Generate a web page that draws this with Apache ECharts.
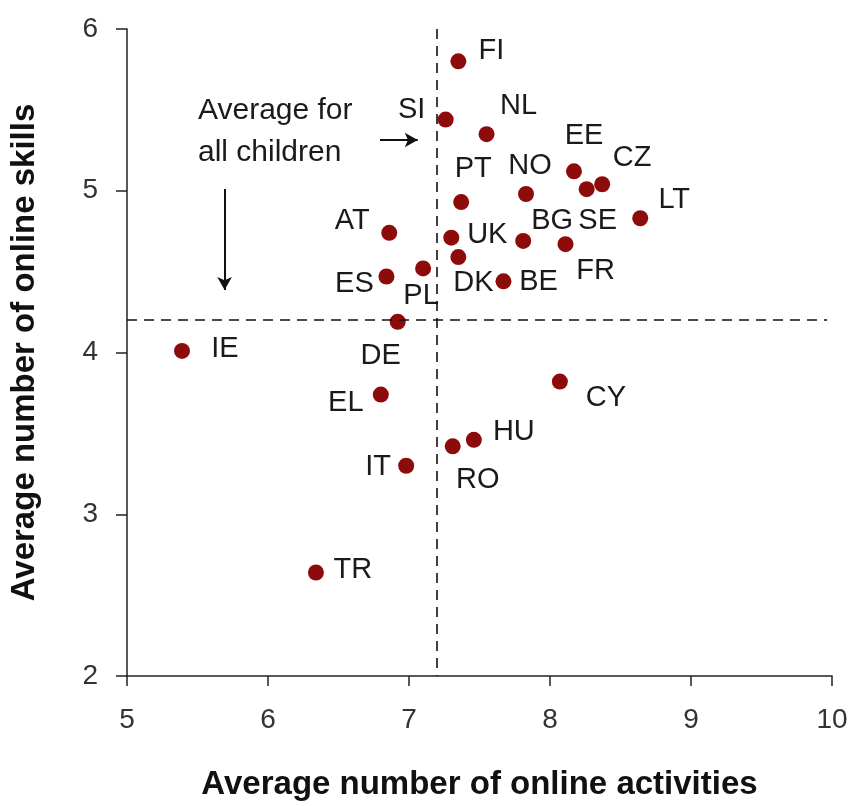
<!DOCTYPE html>
<html>
<head>
<meta charset="utf-8">
<script src="https://cdn.jsdelivr.net/npm/echarts@6/dist/echarts.min.js"></script>
<style>
html,body{margin:0;padding:0;background:#fff;}
#chart{width:868px;height:806px;}
</style>
</head>
<body>
<div id="chart"></div>
<script>
// ---- data ----
const countries  = ['FI','SI','NL','EE','CZ','SE','NO','PT','LT','AT','BG','UK','FR','DK','BE','ES','PL','DE','IE','EL','IT','RO','HU','CY','TR'];
const activities = [7.35,7.26,7.55,8.17,8.37,8.26,7.83,7.37,8.64,6.86,7.81,7.30,8.11,7.35,7.67,6.84,7.10,6.92,5.39,6.80,6.98,7.31,7.46,8.07,6.34];
const skills     = [5.80,5.44,5.35,5.12,5.04,5.01,4.98,4.93,4.83,4.74,4.69,4.71,4.67,4.59,4.44,4.47,4.52,4.19,4.01,3.74,3.30,3.42,3.46,3.82,2.64];
const avgActivities = 7.2;
const avgSkills = 4.2;
const xTicks = [5,6,7,8,9,10];
const yTicks = [2,3,4,5,6];
const annotationLines = ['Average for', 'all children'];

// ---- label placement (layout only) ----
const labelOffsets = {
  FI:[33,-10], SI:[-34,-10], NL:[32,-28], EE:[10,-35], CZ:[30,-26], SE:[11,32],
  NO:[4,-28], PT:[12,-33], LT:[34,-18], AT:[-37,-12], BG:[29,-20], UK:[36,-3],
  FR:[30,27], DK:[15,26], BE:[35,1], ES:[-32,8], PL:[-2,28], DE:[-17,34],
  IE:[43,-2], EL:[-35,8], IT:[-28,1], RO:[25,34], HU:[40,-8], CY:[46,16], TR:[37,-2]
};

const FONT = "'Liberation Sans', Arial, Helvetica, sans-serif";
const points = countries.map((c,i)=>({
  name:c,
  value:[activities[i], skills[i]],
  label:{offset: labelOffsets[c] || [0,0]}
}));

const chart = echarts.init(document.getElementById('chart'), null, {renderer:'canvas'});
const option = {
  animation:false,
  backgroundColor:'#ffffff',
  grid:{left:124, right:36, top:29, bottom:130},
  xAxis:{
    type:'value', min:xTicks[0], max:xTicks[xTicks.length-1], interval:1,
    name:'Average number of online activities',
    nameLocation:'middle', nameGap:92,
    nameTextStyle:{fontFamily:FONT, fontWeight:'bold', fontSize:33, color:'#111'},
    axisLine:{show:true, lineStyle:{color:'#222', width:1.5}},
    axisTick:{show:true, inside:false, length:10, lineStyle:{color:'#222', width:1.5}},
    axisLabel:{fontFamily:FONT, fontSize:28, color:'#333', margin:30},
    splitLine:{show:false}
  },
  yAxis:{
    type:'value', min:yTicks[0], max:yTicks[yTicks.length-1], interval:1,
    name:'Average number of online skills',
    nameLocation:'middle', nameGap:86, nameRotate:90,
    nameTextStyle:{fontFamily:FONT, fontWeight:'bold', fontSize:33, color:'#111'},
    axisLine:{show:true, lineStyle:{color:'#222', width:1.5}},
    axisTick:{show:true, inside:false, length:11, lineStyle:{color:'#222', width:1.5}},
    axisLabel:{fontFamily:FONT, fontSize:28, color:'#333', margin:29},
    splitLine:{show:false}
  },
  series:[{
    type:'scatter',
    clip:false,
    symbol:'circle',
    symbolSize:16,
    itemStyle:{color:'#8e0b0b', opacity:1},
    label:{
      show:true, position:'inside', formatter:'{b}',
      fontFamily:FONT, fontSize:29, color:'#1a1a1a',
      align:'center', verticalAlign:'middle'
    },
    data:points,
    markLine:{
      silent:true,
      animation:false,
      label:{show:false},
      data:[
        [{coord:[avgActivities,6], symbol:'none'},{coord:[avgActivities,2], symbol:'none'}],
        [{coord:[5,avgSkills], symbol:'none'},{coord:[9.965,avgSkills], symbol:'none'}],
        [{coord:[6.794,5.314], symbol:'none', lineStyle:{type:'solid', width:2, color:'#111'}},
         {coord:[7.062,5.314], symbol:'arrow', symbolSize:[11,13]}],
        [{coord:[5.692,5.011], symbol:'none', lineStyle:{type:'solid', width:2, color:'#111'}},
         {coord:[5.692,4.386], symbol:'arrow', symbolSize:[11,13]}]
      ],
      lineStyle:{color:'#111', width:1.6, type:[10,7]},
      symbol:['none','none']
    }
  }],
  graphic:[{
    type:'text', left:198, top:90,
    style:{
      text:annotationLines.join('\n'),
      font:"30px " + FONT,
      fill:'#1a1a1a',
      lineHeight:42
    }
  }]
};
chart.setOption(option);
</script>
</body>
</html>
